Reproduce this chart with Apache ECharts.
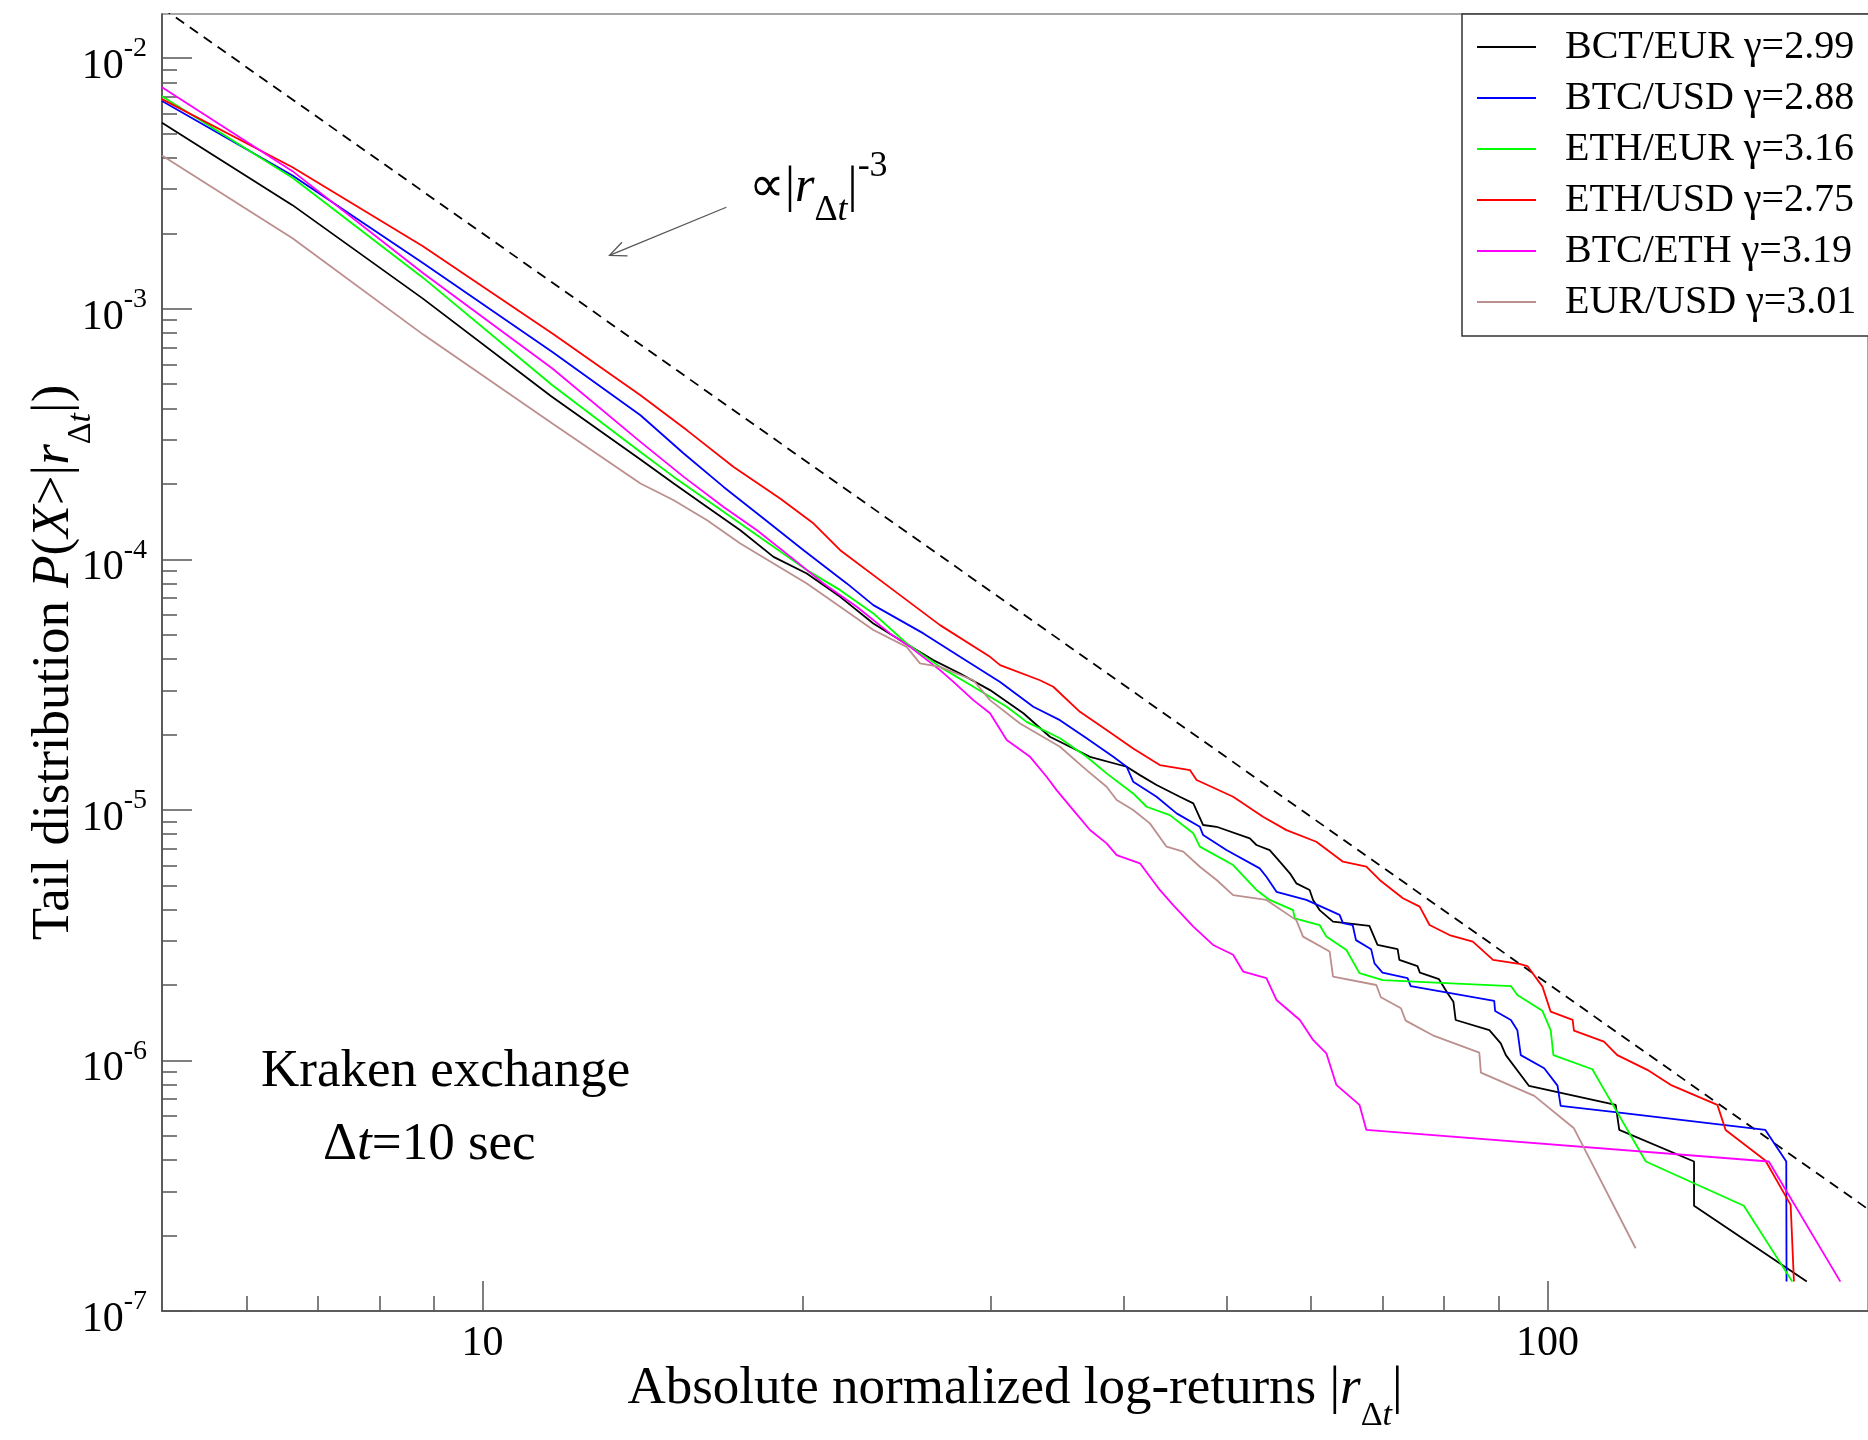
<!DOCTYPE html>
<html>
<head>
<meta charset="utf-8">
<script src="https://cdn.jsdelivr.net/npm/echarts@6/dist/echarts.min.js"></script>
<style>html,body{margin:0;padding:0;background:#fff}#c{width:1868px;height:1440px}</style>
</head>
<body>
<div id="c"></div>
<script>
const FONT = '"Liberation Serif", "Times New Roman", serif';

// ---- data ----
const names = ['BCT/EUR γ=2.99','BTC/USD γ=2.88','ETH/EUR γ=3.16','ETH/USD γ=2.75','BTC/ETH γ=3.19','EUR/USD γ=3.01'];
const colors = ['#000000','#0000ff','#00ff00','#ff0000','#ff00ff','#bc8f8f'];

const bctEurX = [5,6.63,8.79,11.6,14.07,15.12,16.25,17.46,18.76,20.16,21.67,23.28,24.66,26.5,28.08,29.96,32.2,34.1,37.19,40.26,41.43,42.95,45.16,46.5,47.5,48.9,52.54,53.3,54.85,56.06,57.3,58.1,59.8,60.24,61.1,62.9,68.05,69.25,72.33,72.6,75.5,75.9,79.1,80.58,81.6,82.0,88.2,90.4,91.4,96.1,115.9,116.8,137.3,137.3,175.2];
const bctEurY = [5.52e-3,2.59e-3,1.097e-3,4.47e-4,2.50e-4,2.006e-4,1.618e-4,1.306e-4,1.022e-4,8.78e-5,7.08e-5,5.54e-5,4.76e-5,3.96e-5,3.50e-5,3.005e-5,2.43e-5,1.957e-5,1.628e-5,1.486e-5,1.376e-5,1.256e-5,1.128e-5,1.061e-5,8.70e-6,8.56e-6,7.69e-6,7.24e-6,6.91e-6,6.21e-6,5.58e-6,5.09e-6,4.79e-6,4.37e-6,3.98e-6,3.58e-6,3.44e-6,2.89e-6,2.78e-6,2.52e-6,2.38e-6,2.24e-6,2.11e-6,1.853e-6,1.716e-6,1.45e-6,1.32e-6,1.17e-6,1.05e-6,7.91e-7,6.65e-7,5.28e-7,3.95e-7,2.63e-7,1.31e-7];

const btcUsdX = [5,6.63,8.79,11.63,14.07,15.45,16.84,18.36,20.02,21.98,23.28,25.94,28.08,30.62,32.9,34.85,36.92,39.11,40.26,40.83,42.95,44.85,47.16,47.5,49.95,53.68,54.46,55.66,59.37,63.8,64.27,65.63,66.1,68.3,68.8,70.0,73.9,74.4,89.13,89.3,92.4,93.7,94.4,99.3,102.2,102.9,116.3,160.2,167.6,167.7];
const btcUsdY = [6.74e-3,3.40e-3,1.521e-3,6.72e-4,3.757e-4,2.642e-4,1.944e-4,1.454e-4,1.087e-4,8.01e-5,6.56e-5,5.06e-5,4.08e-5,3.24e-5,2.58e-5,2.28e-5,1.93e-5,1.628e-5,1.486e-5,1.295e-5,1.128e-5,9.68e-6,8.56e-6,7.93e-6,6.91e-6,5.84e-6,5.41e-6,4.71e-6,4.37e-6,3.81e-6,3.53e-6,3.47e-6,3.02e-6,2.78e-6,2.44e-6,2.24e-6,2.13e-6,1.98e-6,1.73e-6,1.575e-6,1.45e-6,1.32e-6,1.05e-6,9.31e-7,7.93e-7,6.58e-7,6.21e-7,5.28e-7,3.95e-7,1.31e-7];

const ethEurX = [5,6.63,8.79,11.63,14.07,15.12,16.25,17.46,18.76,20.16,21.67,23.28,25.02,26.89,28.9,31.06,32.43,34.85,36.92,38.55,40.83,42.03,44.2,46.5,47.16,50.68,53.3,54.85,57.7,57.9,61.1,62.0,64.75,66.6,70.05,79.4,92.4,93.7,98.9,100.7,101.3,110.2,112.6,123.7,152.9,169.8];
const ethEurY = [7.04e-3,3.33e-3,1.33e-3,4.95e-4,2.68e-4,2.132e-4,1.72e-4,1.389e-4,1.121e-4,9.05e-5,7.53e-5,6.08e-5,4.61e-5,3.72e-5,3.10e-5,2.58e-5,2.245e-5,1.93e-5,1.628e-5,1.398e-5,1.163e-5,1.029e-5,9.53e-6,8.06e-6,7.13e-6,6.02e-6,4.79e-6,4.37e-6,3.98e-6,3.69e-6,3.47e-6,3.12e-6,2.76e-6,2.23e-6,2.09e-6,2.04e-6,1.98e-6,1.825e-6,1.58e-6,1.32e-6,1.05e-6,9.22e-7,7.86e-7,3.95e-7,2.63e-7,1.31e-7];

const ethUsdX = [5,6.63,8.79,11.63,14.07,15.56,17.21,19.03,20.46,21.67,24.31,26.89,29.96,30.62,33.38,34.35,36.39,38.55,40.83,43.25,46.16,46.83,50.68,54.06,56.88,60.67,64.27,67.6,69.57,73.16,75.86,77.5,80.9,85.1,88.9,94.1,95.76,98.93,100.7,105.6,105.9,113.0,116.3,124.1,130.5,144.4,147.0,160.2,169.2,170.4];
const ethUsdY = [6.86e-3,3.67e-3,1.774e-3,7.96e-4,4.515e-4,3.27e-4,2.336e-4,1.748e-4,1.389e-4,1.087e-4,7.53e-5,5.46e-5,4.08e-5,3.78e-5,3.29e-5,3.10e-5,2.461e-5,2.081e-5,1.759e-5,1.509e-5,1.441e-5,1.315e-5,1.128e-5,9.39e-6,8.30e-6,7.46e-6,6.21e-6,5.93e-6,5.25e-6,4.44e-6,4.11e-6,3.47e-6,3.166e-6,2.98e-6,2.52e-6,2.43e-6,2.38e-6,1.97e-6,1.565e-6,1.451e-6,1.315e-6,1.189e-6,1.05e-6,9.17e-7,7.99e-7,6.645e-7,5.28e-7,3.985e-7,2.652e-7,1.311e-7];

const btcEthX = [5,6.63,8.79,11.63,14.07,15.45,16.84,18.1,19.73,20.9,22.46,24.13,25.2,26.89,27.68,28.9,29.96,31.06,32.67,33.86,34.6,35.87,37.19,38.55,39.4,41.43,43.25,44.52,46.5,48.53,50.68,51.8,54.46,55.66,58.55,60.24,62.0,63.35,66.6,67.6,161.4,188.4];
const btcEthY = [7.66e-3,3.54e-3,1.388e-3,5.77e-4,2.94e-4,2.132e-4,1.618e-4,1.306e-4,9.76e-5,8.01e-5,6.46e-5,5.06e-5,4.47e-5,3.61e-5,3.24e-5,2.74e-5,2.43e-5,1.90e-5,1.628e-5,1.355e-5,1.199e-5,9.98e-6,8.31e-6,7.35e-6,6.60e-6,6.12e-6,4.79e-6,4.17e-6,3.42e-6,2.89e-6,2.64e-6,2.26e-6,2.13e-6,1.743e-6,1.45e-6,1.207e-6,1.068e-6,7.99e-7,6.65e-7,5.28e-7,3.95e-7,1.31e-7];

const eurUsdX = [5,6.63,8.79,11.63,14.07,15.12,16.25,17.46,18.76,20.16,21.67,23.28,25.02,25.75,26.89,28.9,29.96,31.97,34.85,36.92,38.55,39.4,40.83,42.33,43.89,45.5,47.16,48.9,50.68,54.46,58.1,58.95,62.44,62.9,69.07,69.76,72.85,73.6,78.27,86.3,86.6,97.2,105.9,121.0];
const eurUsdY = [4.09e-3,1.91e-3,7.90e-4,3.48e-4,2.006e-4,1.72e-4,1.432e-4,1.156e-4,9.62e-5,8.01e-5,6.46e-5,5.22e-5,4.47e-5,3.84e-5,3.72e-5,3.29e-5,2.74e-5,2.21e-5,1.785e-5,1.441e-5,1.237e-5,1.094e-5,9.98e-6,8.83e-6,7.13e-6,6.81e-6,5.93e-6,5.25e-6,4.57e-6,4.37e-6,3.63e-6,3.12e-6,2.72e-6,2.16e-6,2.00e-6,1.787e-6,1.615e-6,1.441e-6,1.252e-6,1.074e-6,8.94e-7,7.22e-7,5.36e-7,1.78e-7];

// dashed guide  ∝ |r|^-3 (two end values)
const guideX = [5, 200];
const guideY = [0.0159, 2.55e-7];

// annotation arrow (data coordinates)
const arrowFrom = [16.94, 2.54e-3];
const arrowTo = [13.16, 1.633e-3];

// ticks
const xMajor = [10, 100];
const xMinor = [6,7,8,9,20,30,40,50,60,70,80,90];
const yMajor = [1e-7,1e-6,1e-5,1e-4,1e-3,1e-2];
const yMinor = [];
[-7,-6,-5,-4,-3].forEach(e => { for (let m = 2; m <= 9; m++) yMinor.push(+(m * Math.pow(10, e)).toPrecision(3)); });

const xs = [bctEurX, btcUsdX, ethEurX, ethUsdX, btcEthX, eurUsdX];
const ysArr = [bctEurY, btcUsdY, ethEurY, ethUsdY, btcEthY, eurUsdY];

const chart = echarts.init(document.getElementById('c'), null, {renderer: 'canvas', width: 1868, height: 1440});

const axisCol = '#444';
const tickCol = '#555';

const series = names.map((n, i) => ({
  name: n, type: 'line', symbol: 'none', showSymbol: false,
  data: xs[i].map((x, k) => [x, ysArr[i][k]]),
  lineStyle: {color: colors[i], width: 1.8},
  itemStyle: {color: colors[i]}, color: colors[i],
  emphasis: {disabled: true}, z: 3
}));
series.push({
  name: 'guide', type: 'line', symbol: 'none', showSymbol: false,
  data: guideX.map((x, k) => [x, guideY[k]]),
  lineStyle: {color: '#000', width: 1.8, type: [10, 7]},
  emphasis: {disabled: true}, z: 2, silent: true
});

const nameRich = {
  t: {fontSize: 53, fontFamily: FONT, color: '#000', lineHeight: 60},
  i: {fontSize: 53, fontFamily: FONT, color: '#000', fontStyle: 'italic', lineHeight: 60},
  s: {fontSize: 34, fontFamily: FONT, color: '#000', padding: [54, 0, 0, 0], lineHeight: 60},
  si: {fontSize: 34, fontFamily: FONT, color: '#000', fontStyle: 'italic', padding: [54, 0, 0, 0], lineHeight: 60}
};

chart.setOption({
  animation: false,
  backgroundColor: '#fff',
  grid: {left: 162, right: 0, top: 14, bottom: 129, show: true, borderColor: '#888', borderWidth: 1.5,
    backgroundColor: 'transparent', containLabel: false, outerBoundsMode: 'none'},
  legend: {
    data: names, orient: 'vertical', left: 1462, top: 14,
    icon: 'rect', itemWidth: 59, itemHeight: 2, itemGap: 11,
    padding: [13, 20, 14, 15],
    backgroundColor: '#fff', borderColor: '#333', borderWidth: 1.5,
    selectedMode: false,
    textStyle: {fontSize: 40, fontFamily: FONT, color: '#000', lineHeight: 40, padding: [0, 0, 0, 24]}
  },
  xAxis: [
    {
      type: 'log', logBase: 10, min: 5, max: 200, position: 'bottom',
      axisLine: {show: true, onZero: false, lineStyle: {color: axisCol, width: 1.5}},
      axisTick: {show: true, inside: true, length: 30, customValues: xMajor, lineStyle: {color: tickCol, width: 1.5}},
      axisLabel: {show: true, customValues: xMajor, margin: 12, fontSize: 42, fontFamily: FONT, color: '#000',
        formatter: v => String(Math.round(v))},
      splitLine: {show: false}, minorTick: {show: false},
      name: '{t|Absolute normalized log-returns |}{i|r}{s|Δ}{si|t}{t||}',
      nameLocation: 'middle', nameGap: 48, nameMoveOverlap: false,
      nameTextStyle: {rich: nameRich, fontFamily: FONT, fontSize: 53, color: '#000'}
    },
    {
      type: 'log', logBase: 10, min: 5, max: 200, position: 'bottom',
      axisLine: {show: false},
      axisTick: {show: true, inside: true, length: 15, customValues: xMinor, lineStyle: {color: tickCol, width: 1.5}},
      axisLabel: {show: false}, splitLine: {show: false}
    }
  ],
  yAxis: [
    {
      type: 'log', logBase: 10, min: 1e-7, max: 0.015, position: 'left',
      axisLine: {show: true, onZero: false, lineStyle: {color: axisCol, width: 1.5}},
      axisTick: {show: true, inside: true, length: 30, customValues: yMajor, lineStyle: {color: tickCol, width: 1.5}},
      axisLabel: {show: true, customValues: yMajor, margin: 15, color: '#000',
        formatter: v => '{b|10}{s|' + Math.round(Math.log10(v)) + '}',
        rich: {
          b: {fontSize: 42, fontFamily: FONT, color: '#000', padding: [18, 0, 0, 0]},
          s: {fontSize: 28, fontFamily: FONT, color: '#000', padding: [0, 0, 18, 0]}
        }},
      splitLine: {show: false}, minorTick: {show: false},
      name: '{t|Tail distribution }{i|P}{t|(}{i|X}{t|>|}{i|r}{s|Δ}{si|t}{t||)}',
      nameLocation: 'middle', nameGap: 78, nameMoveOverlap: false,
      nameTextStyle: {rich: nameRich, fontFamily: FONT, fontSize: 53, color: '#000'}
    },
    {
      type: 'log', logBase: 10, min: 1e-7, max: 0.015, position: 'left',
      axisLine: {show: false},
      axisTick: {show: true, inside: true, length: 15, customValues: yMinor, lineStyle: {color: tickCol, width: 1.5}},
      axisLabel: {show: false}, splitLine: {show: false}
    }
  ],
  series: series
});

// annotations
const pFrom = chart.convertToPixel({xAxisIndex: 0, yAxisIndex: 0}, arrowFrom);
const pTo = chart.convertToPixel({xAxisIndex: 0, yAxisIndex: 0}, arrowTo);
const dx = pFrom[0] - pTo[0], dy = pFrom[1] - pTo[1];
const L = Math.hypot(dx, dy), ux = dx / L, uy = dy / L;
const ang = 24 * Math.PI / 180, hl = 18;
const w1 = [pTo[0] + hl * (ux * Math.cos(ang) - uy * Math.sin(ang)), pTo[1] + hl * (ux * Math.sin(ang) + uy * Math.cos(ang))];
const w2 = [pTo[0] + hl * (ux * Math.cos(-ang) - uy * Math.sin(-ang)), pTo[1] + hl * (ux * Math.sin(-ang) + uy * Math.cos(-ang))];

chart.setOption({
  graphic: [
    {type: 'line', shape: {x1: pFrom[0], y1: pFrom[1], x2: pTo[0], y2: pTo[1]}, style: {stroke: '#555', lineWidth: 1.3}, z: 10},
    {type: 'polyline', shape: {points: [w1, [pTo[0], pTo[1]], w2]}, style: {stroke: '#555', lineWidth: 1.3, fill: null}, z: 10},
    {type: 'text', x: 749, y: 188, z: 10, style: {
      text: '{n|∝|}{i|r}{s|Δ}{si|t}{n||}{p|-3}', align: 'left', verticalAlign: 'middle',
      rich: {
        n: {fontSize: 50, fontFamily: FONT, fill: '#000'},
        i: {fontSize: 50, fontFamily: FONT, fontStyle: 'italic', fill: '#000'},
        s: {fontSize: 36, fontFamily: FONT, fill: '#000', padding: [46, 0, 0, 0]},
        si: {fontSize: 36, fontFamily: FONT, fontStyle: 'italic', fill: '#000', padding: [46, 0, 0, 0]},
        p: {fontSize: 36, fontFamily: FONT, fill: '#000', padding: [0, 0, 42, 0]}
      }}},
    {type: 'text', x: 261, y: 1072, z: 10, style: {text: 'Kraken exchange', fontSize: 53, fontFamily: FONT, fill: '#000', align: 'left', verticalAlign: 'middle'}},
    {type: 'text', x: 323, y: 1145, z: 10, style: {
      text: '{n|Δ}{i|t}{n|=10 sec}', align: 'left', verticalAlign: 'middle',
      rich: {
        n: {fontSize: 53, fontFamily: FONT, fill: '#000'},
        i: {fontSize: 53, fontFamily: FONT, fontStyle: 'italic', fill: '#000'}
      }}}
  ]
});
</script>
</body>
</html>
